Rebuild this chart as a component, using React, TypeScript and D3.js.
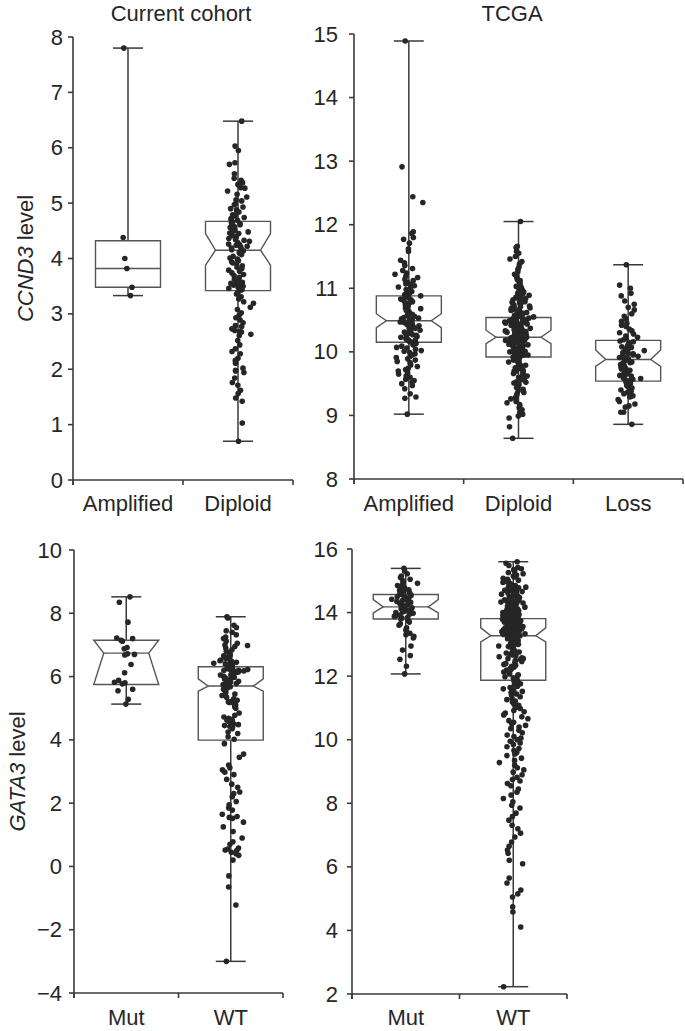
import React from "react";
import * as d3 from "d3";

// ---------- categories ----------
const topCategoriesCurrent = ["Amplified", "Diploid"];
const topCategoriesTcga = ["Amplified", "Diploid", "Loss"];
const bottomCategories = ["Mut", "WT"];

// ---------- tick values ----------
const ticksCcndCurrent = [0, 1, 2, 3, 4, 5, 6, 7, 8];
const ticksCcndTcga = [8, 9, 10, 11, 12, 13, 14, 15];
const ticksGataCurrent = [-4, -2, 0, 2, 4, 6, 8, 10];
const ticksGataTcga = [2, 4, 6, 8, 10, 12, 14, 16];

// ---------- point values ----------
const ccndCurrentAmplified = [7.8, 4.38, 4.0, 3.82, 3.48, 3.33];
const ccndCurrentDiploid = [
  6.48, 6.03, 5.95, 5.73, 5.7, 5.53, 5.45, 5.41, 5.37, 5.34, 5.33, 5.28, 5.27, 5.22, 5.16, 5.11, 5.06, 5.04, 4.99, 4.97, 4.93, 4.9, 4.88, 4.84, 4.83, 4.79, 4.77, 4.74, 4.73, 4.71, 4.69,
  4.66, 4.64, 4.63, 4.61, 4.58, 4.57, 4.56, 4.53, 4.51, 4.5, 4.48, 4.46, 4.45, 4.42, 4.41, 4.4, 4.38, 4.36, 4.34, 4.33, 4.31, 4.29, 4.26, 4.25, 4.24, 4.22, 4.21, 4.19, 4.18, 4.16,
  4.14, 4.11, 4.09, 4.07, 4.04, 4.01, 3.99, 3.96, 3.94, 3.92, 3.9, 3.87, 3.84, 3.82, 3.79, 3.77, 3.74, 3.71, 3.69, 3.66, 3.63, 3.61, 3.59, 3.57, 3.55, 3.53, 3.52, 3.5, 3.48, 3.46, 3.44, 3.43,
  3.39, 3.36, 3.31, 3.27, 3.22, 3.19, 3.12, 3.08, 3.02, 2.97, 2.93, 2.89, 2.84, 2.79, 2.77, 2.73, 2.7, 2.68, 2.67, 2.63, 2.61, 2.52, 2.44, 2.37, 2.32, 2.28, 2.2, 2.16, 2.11, 2.02, 1.98, 1.97, 1.94, 1.84, 1.76, 1.71, 1.62, 1.56, 1.48, 1.42, 1.03, 0.7,
];
const ccndTcgaAmplified = [
  14.89, 12.91, 12.44, 12.35, 11.89, 11.86, 11.8, 11.77, 11.71, 11.62, 11.58, 11.44, 11.4, 11.36, 11.31, 11.28, 11.24, 11.22, 11.19, 11.17, 11.14, 11.12, 11.09, 11.07, 11.06, 11.04, 11.02, 11.0, 10.98, 10.97, 10.95, 10.93, 10.92, 10.9,
  10.88, 10.87, 10.85, 10.83, 10.82, 10.8, 10.79, 10.77, 10.75, 10.74, 10.72, 10.71, 10.69, 10.68, 10.66, 10.65, 10.63, 10.62, 10.61, 10.59, 10.58, 10.57, 10.56, 10.54, 10.53, 10.52, 10.51, 10.5, 10.49,
  10.48, 10.47, 10.46, 10.44, 10.43, 10.42, 10.41, 10.39, 10.38, 10.37, 10.36, 10.34, 10.33, 10.32, 10.31, 10.29, 10.28, 10.27, 10.26, 10.24, 10.23, 10.22, 10.21, 10.2, 10.19, 10.18, 10.17, 10.16, 10.15,
  10.13, 10.11, 10.09, 10.07, 10.06, 10.04, 10.02, 10.01, 9.99, 9.97, 9.95, 9.93, 9.91, 9.89, 9.87, 9.85, 9.83, 9.81, 9.79, 9.77, 9.74, 9.72, 9.7, 9.67, 9.65, 9.62, 9.6, 9.57, 9.55, 9.52, 9.5, 9.47, 9.42, 9.34, 9.29, 9.27, 9.02,
];
const ccndTcgaDiploid = [
  12.05, 11.66, 11.64, 11.58, 11.55, 11.5, 11.46, 11.42, 11.38, 11.33, 11.3, 11.26, 11.22, 11.2, 11.17, 11.14, 11.12, 11.1, 11.07, 11.05, 11.03, 11.01, 10.99, 10.97, 10.96, 10.94, 10.92, 10.91, 10.89, 10.88, 10.86, 10.85, 10.83, 10.82, 10.8, 10.79, 10.77, 10.76, 10.74, 10.73, 10.71, 10.7, 10.69, 10.67, 10.66, 10.64, 10.63, 10.62, 10.6, 10.59, 10.58, 10.57, 10.56, 10.55,
  10.84, 10.78, 10.72, 10.68, 10.65, 10.61, 10.58, 10.56,
  10.53, 10.53, 10.52, 10.51, 10.5, 10.49, 10.49, 10.48, 10.47, 10.46, 10.45, 10.44, 10.44, 10.43, 10.42, 10.41, 10.4, 10.39, 10.39, 10.38, 10.37, 10.36, 10.35, 10.35, 10.34, 10.33, 10.32, 10.31, 10.31, 10.3, 10.29, 10.28, 10.28, 10.27, 10.26, 10.26, 10.25, 10.24, 10.24, 10.23, 10.23, 10.22, 10.22, 10.21,
  10.5, 10.46, 10.42, 10.38, 10.34, 10.3, 10.27, 10.25, 10.22,
  10.2, 10.2, 10.19, 10.18, 10.18, 10.17, 10.16, 10.16, 10.15, 10.14, 10.14, 10.13, 10.12, 10.11, 10.11, 10.1, 10.09, 10.08, 10.08, 10.07, 10.06, 10.05, 10.05, 10.04, 10.03, 10.02, 10.01, 10.0, 10.0, 9.99, 9.98, 9.97, 9.96, 9.95, 9.95, 9.94, 9.93, 9.92, 9.92, 9.91,
  10.19, 10.15, 10.12, 10.08, 10.04, 10.0, 9.97, 9.94,
  9.9, 9.89, 9.87, 9.86, 9.84, 9.83, 9.81, 9.8, 9.78, 9.76, 9.75, 9.73, 9.71, 9.7, 9.68, 9.66, 9.64, 9.62, 9.6, 9.58, 9.56, 9.53, 9.51, 9.49, 9.46, 9.44, 9.41, 9.39, 9.36, 9.34, 9.31, 9.28, 9.26, 9.22, 9.2, 9.17, 9.14, 9.12, 9.09, 9.05, 9.02, 8.99, 8.96, 8.82, 8.64,
  9.88, 9.84, 9.79, 9.74, 9.69, 9.63, 9.57, 9.52,
];
const ccndTcgaLoss = [
  11.37, 11.05, 11.0, 10.92, 10.88, 10.8, 10.75, 10.7, 10.66, 10.6, 10.56, 10.52, 10.48, 10.45, 10.42, 10.4, 10.36, 10.33, 10.3, 10.28, 10.25, 10.23, 10.21, 10.19,
  10.17, 10.16, 10.14, 10.13, 10.11, 10.1, 10.08, 10.07, 10.05, 10.04, 10.02, 10.01, 9.99, 9.98, 9.97, 9.96, 9.95, 9.94, 9.93, 9.92, 9.91, 9.9, 9.89, 9.88,
  9.87, 9.86, 9.84, 9.83, 9.82, 9.8, 9.79, 9.77, 9.76, 9.74, 9.73, 9.71, 9.7, 9.68, 9.66, 9.65, 9.63, 9.62, 9.6, 9.59, 9.58, 9.57, 9.56, 9.55,
  9.53, 9.52, 9.5, 9.49, 9.47, 9.46, 9.45, 9.43, 9.42, 9.4, 9.38, 9.36, 9.34, 9.31, 9.3, 9.29, 9.25, 9.22, 9.18, 9.15, 9.13, 9.05, 9.05, 8.86,
];
const gataCurrentMut = [8.52, 8.35, 7.72, 7.22, 7.2, 7.15, 7.12, 6.92, 6.88, 6.72, 6.7, 6.68, 6.38, 6.12, 5.88, 5.82, 5.8, 5.77, 5.6, 5.55, 5.28, 5.13];
const gataCurrentWT = [
  7.89, 7.85, 7.62, 7.55, 7.45, 7.4, 7.32, 7.25, 7.2, 7.12, 7.05, 7.0, 6.98, 6.95, 6.9, 6.85, 6.8, 6.75, 6.72, 6.7, 6.68, 6.66, 6.62, 6.6, 6.58, 6.55, 6.52, 6.5, 6.48, 6.45, 6.42, 6.4, 6.38, 6.35, 6.32,
  6.28, 6.26, 6.25, 6.23, 6.22, 6.2, 6.19, 6.18, 6.16, 6.15, 6.14, 6.12, 6.1, 6.08, 6.06, 6.05, 6.03, 6.01, 6.0, 5.98, 5.95, 5.92, 5.9, 5.88, 5.85, 5.82, 5.8, 5.78, 5.75, 5.72, 5.7, 5.68, 5.66, 5.64,
  5.6, 5.55, 5.5, 5.45, 5.4, 5.35, 5.3, 5.25, 5.22, 5.2, 5.18, 5.15, 5.1, 5.05, 5.0, 4.85, 4.78, 4.72, 4.68, 4.65, 4.62, 4.6, 4.58, 4.55, 4.52, 4.5, 4.48, 4.45, 4.42, 4.4, 4.35, 4.25, 4.2, 4.1, 4.02,
  3.88, 3.55, 3.45, 3.2, 3.12, 3.05, 2.98, 2.9, 2.75, 2.6, 2.5, 2.35, 2.3, 2.2, 2.05, 1.95, 1.85, 1.78, 1.65, 1.58, 1.55, 1.52, 1.4, 1.25, 1.1, 0.9, 0.78, 0.7, 0.58, 0.55, 0.52, 0.5, 0.45, 0.4, 0.35, 0.2, -0.3, -0.65, -1.22, -3.0,
];
const gataTcgaMut = [
  15.39, 15.3, 15.22, 15.15, 15.1, 15.05, 15.0, 14.95, 14.92, 14.88, 14.85, 14.8, 14.78, 14.75, 14.72, 14.7, 14.68, 14.65, 14.62, 14.6, 14.58, 14.56,
  14.54, 14.52, 14.5, 14.48, 14.45, 14.42, 14.4, 14.38, 14.35, 14.32, 14.3, 14.28, 14.25, 14.22, 14.2,
  14.18, 14.15, 14.12, 14.1, 14.08, 14.05, 14.02, 14.0, 13.98, 13.95, 13.92, 13.9, 13.88, 13.85, 13.83,
  13.8, 13.75, 13.7, 13.65, 13.6, 13.52, 13.45, 13.4, 13.35, 13.3, 13.25, 13.2, 12.95, 12.82, 12.65, 12.53, 12.31, 12.07,
];
const gataTcgaWT = [
  15.6, 15.55, 15.48, 15.42, 15.38, 15.35, 15.3, 15.26, 15.22, 15.18, 15.15, 15.12, 15.08, 15.05, 15.02, 15.0, 14.97, 14.94, 14.92, 14.9, 14.87, 14.85, 14.82, 14.8, 14.78, 14.76, 14.74, 14.72, 14.7, 14.68, 14.66, 14.64, 14.62, 14.6, 14.58, 14.56, 14.54, 14.52, 14.5, 14.48, 14.46, 14.44, 14.43, 14.41, 14.4, 14.38, 14.36, 14.35, 14.33, 14.32, 14.3, 14.28, 14.27, 14.25, 14.24, 14.22, 14.21, 14.19, 14.18, 14.16, 14.15, 14.13, 14.12, 14.1, 14.09, 14.08, 14.06, 14.05, 14.04, 14.02, 14.01, 14.0, 13.99, 13.97, 13.96, 13.95, 13.94, 13.92, 13.91, 13.9, 13.89, 13.88, 13.87, 13.86, 13.85, 13.84, 13.83,
  14.95, 14.8, 14.7, 14.62, 14.55, 14.47, 14.4, 14.34, 14.28, 14.22, 14.17, 14.12, 14.07, 14.03, 13.98, 13.93, 13.88,
  13.82, 13.81, 13.8, 13.79, 13.78, 13.77, 13.76, 13.75, 13.74, 13.73, 13.72, 13.71, 13.7, 13.69, 13.68, 13.67, 13.66, 13.65, 13.64, 13.63, 13.62, 13.61, 13.6, 13.59, 13.58, 13.57, 13.56, 13.55, 13.54, 13.53, 13.52, 13.51, 13.5, 13.49, 13.48, 13.47, 13.46, 13.45, 13.44, 13.43, 13.42, 13.41, 13.4, 13.39, 13.38, 13.37, 13.36, 13.35, 13.34, 13.33, 13.32,
  13.8, 13.76, 13.72, 13.68, 13.64, 13.6, 13.56, 13.52, 13.48, 13.44, 13.4, 13.36,
  13.31, 13.29, 13.27, 13.25, 13.24, 13.22, 13.2, 13.18, 13.16, 13.14, 13.12, 13.1, 13.08, 13.05, 13.03, 13.0, 12.98, 12.95, 12.93, 12.9, 12.87, 12.85, 12.82, 12.79, 12.76, 12.73, 12.7, 12.67, 12.64, 12.61, 12.58, 12.55, 12.52, 12.49, 12.46, 12.43, 12.4, 12.37, 12.34, 12.31, 12.28, 12.25, 12.22, 12.19, 12.16, 12.13, 12.1, 12.07, 12.04, 12.01, 11.98, 11.95, 11.92, 11.89, 11.87,
  13.28, 13.2, 13.12, 13.02, 12.92, 12.8, 12.68, 12.55,
  11.84, 11.8, 11.76, 11.72, 11.68, 11.64, 11.6, 11.56, 11.52, 11.48, 11.44, 11.4, 11.35, 11.3, 11.26, 11.22, 11.18, 11.12, 11.08, 11.02, 10.98, 10.92, 10.88, 10.84, 10.78, 10.72, 10.66, 10.6, 10.55, 10.5, 10.45, 10.4, 10.35, 10.3, 10.22, 10.15, 10.1, 10.05, 10.0, 9.95, 9.9, 9.85, 9.78, 9.72, 9.66, 9.6, 9.55, 9.5, 9.42, 9.35, 9.28, 9.2, 9.12, 9.05, 8.98, 8.9, 8.82, 8.75, 8.7, 8.62, 8.55, 8.45, 8.35, 8.26, 8.15, 8.05, 7.94, 7.85, 7.69, 7.58, 7.47, 7.31, 7.2, 7.06, 6.94, 6.78, 6.65, 6.53, 6.43, 6.21, 6.1, 5.65, 5.49, 5.27, 5.15, 5.05, 4.74, 4.58, 4.11, 2.23,
];

// ---------- box statistics (lo whisker, q1, notch lo, median, notch hi, q3, hi whisker) ----------
const statsCcndCurrent = [
  { lo: 3.33, q1: 3.48, med: 3.82, q3: 4.32, hi: 7.8 },
  { lo: 0.7, q1: 3.42, nlo: 3.88, med: 4.15, nhi: 4.45, q3: 4.67, hi: 6.48 },
];
const statsCcndTcga = [
  { lo: 9.02, q1: 10.15, nlo: 10.38, med: 10.49, nhi: 10.6, q3: 10.88, hi: 14.89 },
  { lo: 8.64, q1: 9.92, nlo: 10.13, med: 10.23, nhi: 10.34, q3: 10.54, hi: 12.05 },
  { lo: 8.86, q1: 9.54, nlo: 9.77, med: 9.88, nhi: 10.03, q3: 10.18, hi: 11.37 },
];
const statsGataCurrent = [
  { lo: 5.13, q1: 5.75, nlo: 5.75, med: 6.74, nhi: 7.15, q3: 7.15, hi: 8.52 },
  { lo: -3.0, q1: 3.99, nlo: 5.54, med: 5.7, nhi: 5.93, q3: 6.31, hi: 7.89 },
];
const statsGataTcga = [
  { lo: 12.07, q1: 13.8, nlo: 13.99, med: 14.18, nhi: 14.41, q3: 14.57, hi: 15.39 },
  { lo: 2.23, q1: 11.87, nlo: 13.08, med: 13.27, nhi: 13.52, q3: 13.81, hi: 15.6 },
];

const FONT = "'Liberation Sans', Arial, Helvetica, sans-serif";
const INK = "#262626";
const LINE = "#3a3a3a";

type Stats = { lo: number; q1: number; nlo?: number; med: number; nhi?: number; q3: number; hi: number };

type PanelCfg = {
  left: number;
  right: number;
  yTop: number;
  yBottom: number;
  domain: [number, number];
  ticks: number[];
  tickLabelX: number;
  cats: string[];
  values: number[][];
  stats: Stats[];
  catLabelY: number;
  title?: string;
  titleX?: number;
  yLabelGene?: string;
  yLabelX?: number;
  seed: number;
};

function Panel({ cfg }: { cfg: PanelCfg }) {
  const y = d3.scaleLinear().domain(cfg.domain).range([cfg.yBottom, cfg.yTop]);
  const x = d3.scaleBand().domain(cfg.cats).range([cfg.left, cfg.right]).padding(0);
  const bw = x.bandwidth();
  const hw = 32.5;
  const inset = 10;
  const capHalf = 15;
  const fmt = d3.format("d");
  return (
    <g>
      {cfg.title && (
        <text x={cfg.titleX} y={21} textAnchor="middle" fontFamily={FONT} fontSize={22} fill={INK}>
          {cfg.title}
        </text>
      )}
      {cfg.yLabelGene && (
        <text
          transform={`translate(${cfg.yLabelX},${(cfg.yTop + cfg.yBottom) / 2}) rotate(-90)`}
          textAnchor="middle"
          dominantBaseline="central"
          fontFamily={FONT}
          fontSize={22}
          fill={INK}
        >
          <tspan fontStyle="italic">{cfg.yLabelGene}</tspan>
          <tspan> level</tspan>
        </text>
      )}
      {/* y axis */}
      <line x1={cfg.left} x2={cfg.left} y1={y(cfg.domain[1])} y2={cfg.yBottom + 5} stroke={LINE} strokeWidth={1.6} />
      {cfg.ticks.map((t) => (
        <g key={t}>
          <line x1={cfg.left - 5} x2={cfg.left} y1={y(t)} y2={y(t)} stroke={LINE} strokeWidth={1.6} />
          <text x={cfg.tickLabelX} y={y(t)} textAnchor="end" dominantBaseline="central" fontFamily={FONT} fontSize={22} fill={INK}>
            {fmt(t)}
          </text>
        </g>
      ))}
      {/* x axis */}
      <line x1={cfg.left} x2={cfg.right} y1={cfg.yBottom} y2={cfg.yBottom} stroke={LINE} strokeWidth={1.6} />
      {d3.range(cfg.cats.length + 1).map((i) => (
        <line key={i} x1={cfg.left + i * bw} x2={cfg.left + i * bw} y1={cfg.yBottom} y2={cfg.yBottom + 5} stroke={LINE} strokeWidth={1.6} />
      ))}
      {cfg.cats.map((c) => (
        <text key={c} x={(x(c) ?? 0) + bw / 2} y={cfg.catLabelY} textAnchor="middle" fontFamily={FONT} fontSize={22} fill={INK}>
          {c}
        </text>
      ))}
      {cfg.cats.map((c, gi) => {
        const s = cfg.stats[gi];
        const cx = (x(c) ?? 0) + bw / 2;
        const L = cx - hw;
        const R = cx + hw;
        let boxPath: string;
        let medL = L;
        let medR = R;
        if (s.nlo !== undefined && s.nhi !== undefined) {
          const nhi = Math.min(s.nhi, s.q3);
          const nlo = Math.max(s.nlo, s.q1);
          const p = d3.path();
          p.moveTo(L, y(s.q3));
          p.lineTo(R, y(s.q3));
          p.lineTo(R, y(nhi));
          p.lineTo(R - inset, y(s.med));
          p.lineTo(R, y(nlo));
          p.lineTo(R, y(s.q1));
          p.lineTo(L, y(s.q1));
          p.lineTo(L, y(nlo));
          p.lineTo(L + inset, y(s.med));
          p.lineTo(L, y(nhi));
          p.closePath();
          boxPath = p.toString();
          medL = L + inset;
          medR = R - inset;
        } else {
          const p = d3.path();
          p.rect(L, y(s.q3), hw * 2, y(s.q1) - y(s.q3));
          boxPath = p.toString();
        }
        const normal = d3.randomNormal.source(d3.randomLcg(cfg.seed + gi * 17))(0, 5.2);
        const jit = cfg.values[gi].map(() => Math.max(-17, Math.min(17, normal())));
        return (
          <g key={c}>
            <line x1={cx} x2={cx} y1={y(s.q3)} y2={y(s.hi)} stroke={LINE} strokeWidth={1.5} />
            <line x1={cx} x2={cx} y1={y(s.q1)} y2={y(s.lo)} stroke={LINE} strokeWidth={1.5} />
            <line x1={cx - capHalf} x2={cx + capHalf} y1={y(s.hi)} y2={y(s.hi)} stroke={LINE} strokeWidth={1.5} />
            <line x1={cx - capHalf} x2={cx + capHalf} y1={y(s.lo)} y2={y(s.lo)} stroke={LINE} strokeWidth={1.5} />
            <path d={boxPath} fill="none" stroke="#555" strokeWidth={1.4} />
            <line x1={medL} x2={medR} y1={y(s.med)} y2={y(s.med)} stroke="#555" strokeWidth={1.4} />
            {cfg.values[gi].map((v, i) => (
              <circle key={i} cx={cx + jit[i]} cy={y(v)} r={2.8} fill={INK} />
            ))}
          </g>
        );
      })}
    </g>
  );
}

const panels: PanelCfg[] = [
  {
    left: 73, right: 293, yTop: 37, yBottom: 480, domain: [0, 8], ticks: ticksCcndCurrent, tickLabelX: 63,
    cats: topCategoriesCurrent, values: [ccndCurrentAmplified, ccndCurrentDiploid], stats: statsCcndCurrent,
    catLabelY: 511, title: "Current cohort", titleX: 181, yLabelGene: "CCND3", yLabelX: 25, seed: 11,
  },
  {
    left: 354, right: 683, yTop: 34, yBottom: 479, domain: [8, 15], ticks: ticksCcndTcga, tickLabelX: 338,
    cats: topCategoriesTcga, values: [ccndTcgaAmplified, ccndTcgaDiploid, ccndTcgaLoss], stats: statsCcndTcga,
    catLabelY: 511, title: "TCGA", titleX: 512, seed: 23,
  },
  {
    left: 74, right: 283, yTop: 550, yBottom: 993, domain: [-4, 10], ticks: ticksGataCurrent, tickLabelX: 62,
    cats: bottomCategories, values: [gataCurrentMut, gataCurrentWT], stats: statsGataCurrent,
    catLabelY: 1025, yLabelGene: "GATA3", yLabelX: 17, seed: 37,
  },
  {
    left: 352, right: 567, yTop: 549, yBottom: 994, domain: [2, 16], ticks: ticksGataTcga, tickLabelX: 338,
    cats: bottomCategories, values: [gataTcgaMut, gataTcgaWT], stats: statsGataTcga,
    catLabelY: 1025, seed: 53,
  },
];

export default function App() {
  return (
    <svg width={685} height={1031} style={{ position: "absolute", left: 0, top: 0, background: "#fff" }}>
      <rect width={685} height={1031} fill="#fff" />
      {panels.map((p, i) => (
        <Panel key={i} cfg={p} />
      ))}
    </svg>
  );
}
